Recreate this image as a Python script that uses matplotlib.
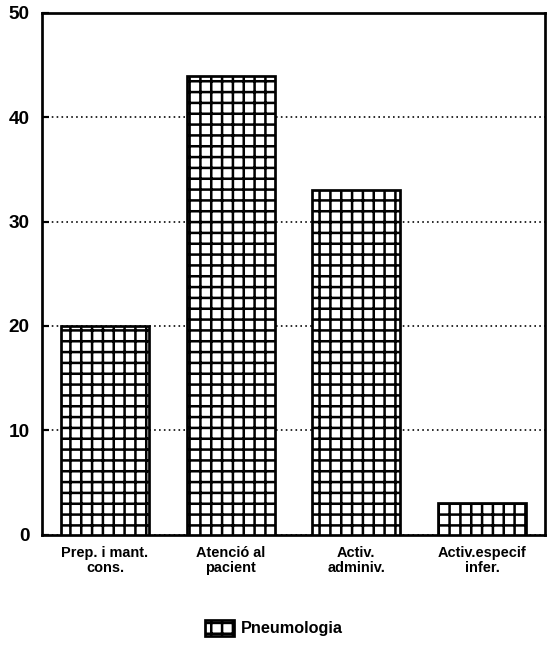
import matplotlib.pyplot as plt
import numpy as np

# categories and values
categories = ["Prep. i mant.\ncons.", "Atenció al\npacient", "Activ.\nadminiv.", "Activ.especif\ninfer."]
values = [20, 44, 33, 3]
series_name = "Pneumologia"
yticks = [0, 10, 20, 30, 40, 50]

plt.rcParams['font.family'] = ['Liberation Sans', 'DejaVu Sans']
plt.rcParams['font.weight'] = 'bold'
plt.rcParams['hatch.linewidth'] = 1.4

dpi = 130
fig = plt.figure(figsize=(547 / dpi, 645 / dpi), dpi=dpi)
ax = fig.add_axes([0.077, 0.171, 0.919, 0.809])

x = np.arange(len(categories))
ax.bar(x, values, width=0.7, color='white', edgecolor='black', linewidth=1.5,
       hatch='++', label=series_name, zorder=3)

ax.set_xlim(-0.5, len(categories) - 0.5)
ax.set_ylim(0, 50)
ax.set_yticks(yticks)
ax.set_xticks(x)
ax.set_xticklabels(categories, fontsize=8, fontweight='bold', linespacing=1.15)
ax.tick_params(axis='y', labelsize=10.5, length=4, width=1.2, direction='in', pad=7)
ax.tick_params(axis='x', length=0, pad=6)
for lab in ax.get_yticklabels():
    lab.set_fontweight('bold')

ax.grid(axis='y', linestyle=(0, (1, 2)), color='black', linewidth=0.9, zorder=0)
for s in ax.spines.values():
    s.set_linewidth(1.5)

fig.legend(loc='center', bbox_to_anchor=(0.5, 0.026), frameon=False,
           prop={'size': 9, 'weight': 'bold'}, handlelength=1.8, handleheight=1.1,
           handletextpad=0.4)

fig.savefig('out.png', dpi=dpi)
